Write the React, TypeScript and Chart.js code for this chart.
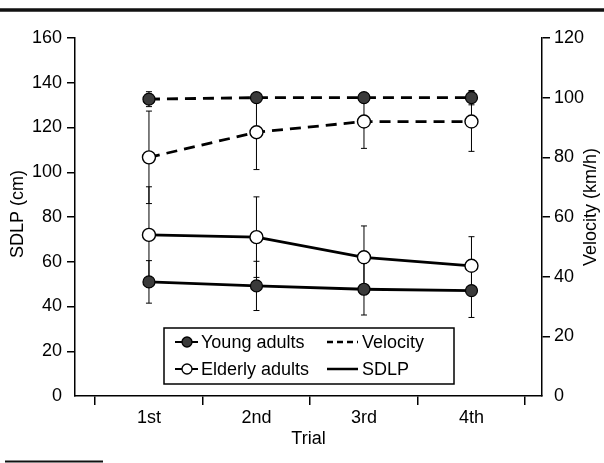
import { useEffect, useRef } from "react";
import { Chart, registerables } from "chart.js";

Chart.register(...registerables);

const categories = ["1st", "2nd", "3rd", "4th"];

// SDLP (cm), left axis
const youngSDLP = [51, 49.2, 47.7, 47.1];
const youngSDLPsd = [9.5, 11, 11.5, 12];
const elderlySDLP = [72, 71, 62, 58.2];
const elderlySDLPsd = [21.5, 18, 14, 13];

// Velocity (km/h), right axis
const youngVel = [99.5, 100, 100, 100];
const youngVelSd = [2.5, 1, 1, 2.4];
const elderlyVel = [80, 88.4, 92, 92];
const elderlyVelSd = [15.5, 12.5, 9, 10];

const leftTitle = "SDLP (cm)";
const rightTitle = "Velocity (km/h)";
const xTitle = "Trial";
const legendGroups = ["Young adults", "Elderly adults"];
const legendMeasures = ["Velocity", "SDLP"];

const FONT = "'Liberation Sans', Arial, Helvetica, sans-serif";
const YOUNG_FILL = "#3a3a3a";

const errorBarPlugin = {
  id: "errorBars",
  beforeDatasetsDraw(chart: any) {
    const ctx = chart.ctx;
    const xs = chart.scales.x;
    ctx.save();
    ctx.strokeStyle = "#000";
    ctx.lineWidth = 1;
    chart.data.datasets.forEach((ds: any) => {
      const ys = chart.scales[ds.yAxisID];
      ds.data.forEach((p: any, i: number) => {
        const sd = ds.errors[i];
        const px = xs.getPixelForValue(p.x);
        const top = ys.getPixelForValue(p.y + sd);
        const bot = ys.getPixelForValue(p.y - sd);
        ctx.beginPath();
        ctx.moveTo(px, top);
        ctx.lineTo(px, bot);
        ctx.moveTo(px - 3, top);
        ctx.lineTo(px + 3, top);
        ctx.moveTo(px - 3, bot);
        ctx.lineTo(px + 3, bot);
        ctx.stroke();
      });
    });
    ctx.restore();
  },
};

const decorPlugin = {
  id: "decor",
  afterDraw(chart: any) {
    const ctx = chart.ctx;
    const ca = chart.chartArea;
    const W = chart.width;
    const H = chart.height;
    ctx.save();
    // scan frame lines
    ctx.strokeStyle = "#111";
    ctx.lineWidth = 3.5;
    ctx.beginPath();
    ctx.moveTo(0, 10);
    ctx.lineTo(W, 10);
    ctx.stroke();
    ctx.lineWidth = 2;
    ctx.beginPath();
    ctx.moveTo(5, H - 1.5);
    ctx.lineTo(103, H - 1.5);
    ctx.stroke();

    // axis titles
    ctx.fillStyle = "#000";
    ctx.font = `18px ${FONT}`;
    ctx.textAlign = "center";
    ctx.textBaseline = "middle";
    ctx.save();
    ctx.translate(18, 214);
    ctx.rotate(-Math.PI / 2);
    ctx.fillText(leftTitle, 0, 0);
    ctx.restore();
    ctx.save();
    ctx.translate(W - 13, 207);
    ctx.rotate(-Math.PI / 2);
    ctx.fillText(rightTitle, 0, 0);
    ctx.restore();

    // legend
    const bx = ca.left + 89;
    const by = ca.bottom - 68;
    const bw = 290;
    const bh = 56;
    ctx.lineWidth = 1.5;
    ctx.strokeStyle = "#000";
    ctx.fillStyle = "#fff";
    ctx.fillRect(bx, by, bw, bh);
    ctx.strokeRect(bx, by, bw, bh);
    const rows = [by + 14, by + 41];
    ctx.font = `18px ${FONT}`;
    ctx.textAlign = "left";
    ctx.textBaseline = "middle";
    rows.forEach((ry, r) => {
      // group sample
      ctx.setLineDash([]);
      ctx.lineWidth = 2;
      ctx.beginPath();
      ctx.moveTo(bx + 11, ry);
      ctx.lineTo(bx + 34, ry);
      ctx.stroke();
      ctx.beginPath();
      ctx.arc(bx + 23, ry, 5, 0, Math.PI * 2);
      ctx.fillStyle = r === 0 ? YOUNG_FILL : "#fff";
      ctx.fill();
      ctx.lineWidth = 1.3;
      ctx.stroke();
      ctx.fillStyle = "#000";
      ctx.fillText(legendGroups[r], bx + 37, ry + 1);
      // measure sample
      ctx.lineWidth = 2.5;
      ctx.setLineDash(r === 0 ? [6, 4] : []);
      ctx.beginPath();
      ctx.moveTo(bx + 163, ry);
      ctx.lineTo(bx + 194, ry);
      ctx.stroke();
      ctx.setLineDash([]);
      ctx.fillText(legendMeasures[r], bx + 198, ry + 1);
    });
    ctx.restore();
  },
};

export default function App() {
  const ref = useRef<HTMLCanvasElement | null>(null);

  useEffect(() => {
    if (!ref.current) return;
    const toPts = (arr: number[]) => arr.map((v, i) => ({ x: i, y: v }));
    const tickFont = { family: FONT, size: 18 };
    const gridColor = (c: any) => (c.tick && c.tick.value === 0 ? "rgba(0,0,0,0)" : "#000");
    const chart = new Chart(ref.current, {
      type: "line",
      data: {
        datasets: [
          {
            label: "Young velocity",
            data: toPts(youngVel),
            yAxisID: "y1",
            borderColor: "#000",
            borderWidth: 2.8,
            borderDash: [11, 7],
            pointRadius: 6,
            pointBackgroundColor: YOUNG_FILL,
            pointBorderColor: "#000",
            pointBorderWidth: 1.2,
            errors: youngVelSd,
          } as any,
          {
            label: "Elderly velocity",
            data: toPts(elderlyVel),
            yAxisID: "y1",
            borderColor: "#000",
            borderWidth: 2.8,
            borderDash: [11, 7],
            pointRadius: 6.5,
            pointBackgroundColor: "#fff",
            pointBorderColor: "#000",
            pointBorderWidth: 1.4,
            errors: elderlyVelSd,
          } as any,
          {
            label: "Young SDLP",
            data: toPts(youngSDLP),
            yAxisID: "y",
            borderColor: "#000",
            borderWidth: 2.8,
            pointRadius: 6,
            pointBackgroundColor: YOUNG_FILL,
            pointBorderColor: "#000",
            pointBorderWidth: 1.2,
            errors: youngSDLPsd,
          } as any,
          {
            label: "Elderly SDLP",
            data: toPts(elderlySDLP),
            yAxisID: "y",
            borderColor: "#000",
            borderWidth: 2.8,
            pointRadius: 6.5,
            pointBackgroundColor: "#fff",
            pointBorderColor: "#000",
            pointBorderWidth: 1.4,
            errors: elderlySDLPsd,
          } as any,
        ],
      },
      options: {
        animation: false,
        responsive: false,
        devicePixelRatio: 1,
        layout: { padding: { top: 38, left: 0, right: 0, bottom: 0 } },
        plugins: { legend: { display: false }, tooltip: { enabled: false } },
        scales: {
          x: {
            type: "linear",
            min: -0.688,
            max: 3.656,
            afterBuildTicks: (s: any) => {
              s.ticks = categories.map((_, i) => ({ value: i }));
            },
            afterFit: (s: any) => {
              s.height = 67;
            },
            grid: { offset: true, drawOnChartArea: false, tickLength: 9, color: "#000", lineWidth: 1.5 },
            border: { color: "#000", width: 1.5 },
            ticks: {
              callback: (v: any) => categories[v as number] ?? "",
              color: "#000",
              font: tickFont,
              padding: 2,
              maxRotation: 0,
              autoSkip: false,
            },
            title: {
              display: true,
              text: xTitle,
              color: "#000",
              font: { family: FONT, size: 18 },
              padding: { top: 0, bottom: 13 },
            },
          },
          y: {
            position: "left",
            min: 0,
            max: 160,
            ticks: { stepSize: 20, color: "#000", font: tickFont, padding: 5 },
            grid: { drawOnChartArea: false, tickLength: 8, color: gridColor, lineWidth: 1.5 },
            border: { color: "#000", width: 1.5 },
            afterFit: (s: any) => {
              s.width = 75;
            },
          },
          y1: {
            position: "right",
            min: 0,
            max: 120,
            ticks: { stepSize: 20, color: "#000", font: tickFont, padding: 4 },
            grid: { drawOnChartArea: false, tickLength: 8, color: gridColor, lineWidth: 1.5 },
            border: { color: "#000", width: 1.5 },
            afterFit: (s: any) => {
              s.width = 62;
            },
          },
        },
      } as any,
      plugins: [errorBarPlugin, decorPlugin],
    });
    return () => chart.destroy();
  }, []);

  return (
    <div style={{ position: "absolute", left: 0, top: 0, width: 604, height: 463, background: "#fff" }}>
      <canvas ref={ref} width={604} height={463} style={{ width: 604, height: 463, display: "block" }} />
    </div>
  );
}
